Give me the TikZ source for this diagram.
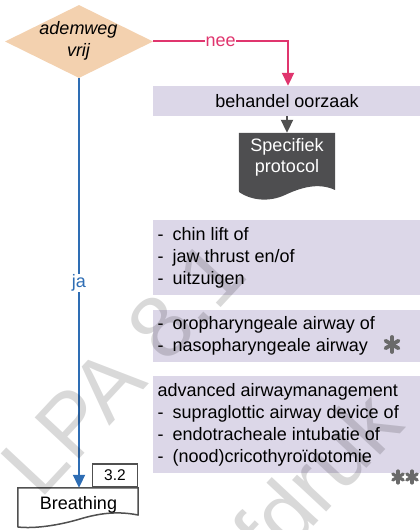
\documentclass[tikz,border=0pt]{standalone}
\usepackage{fontspec}
\setmainfont{Liberation Sans}
\usetikzlibrary{shapes.geometric,arrows.meta}

\definecolor{decisionfill}{HTML}{F3D1AF}
\definecolor{actionfill}{HTML}{DCD7E8}
\definecolor{noline}{HTML}{E0356E}
\definecolor{yesline}{HTML}{2E6DB4}
\definecolor{protofill}{HTML}{4E4E50}
\definecolor{docline}{HTML}{505050}
\definecolor{markgray}{HTML}{6A6A6A}

\begin{document}
\begin{tikzpicture}[x=1pt,y=1pt,
  txt/.style={font=\fontsize{18}{22}\selectfont, inner sep=0pt},
  decision/.style={diamond, fill=decisionfill, minimum width=148pt,
    minimum height=73pt, inner sep=0pt, aspect=2},
  actionbox/.style={rectangle, fill=actionfill, inner sep=0pt,
    minimum width=270pt},
  lbl/.style={txt, fill=white, inner sep=0.6pt},
  noflow/.style={draw=noline, line width=2pt,
    -{Triangle[width=12pt,length=13pt]}},
  yesflow/.style={draw=yesline, line width=2pt,
    -{Triangle[width=12pt,length=13pt]}},
  darkflow/.style={draw=docline, line width=2pt,
    -{Triangle[width=12pt,length=13pt]}},
  docedge/.style={draw=docline, line width=1.5pt},
  watermark/.style={font=\fontsize{88}{88}\selectfont, text=black,
    text opacity=0.15, inner sep=0pt, rotate=47, anchor=base west},
  pics/heavyast/.style 2 args={code={
    \foreach \a in {30,90,...,330}
      \draw[line width=#2, line cap=round, markgray] (0,0) -- (\a:#1);
  }}
]
\useasboundingbox (0,0) rectangle (420,530);

% decision
\node[decision] (q) at (79,488.5) {};
\node[txt, anchor=base, font=\fontsize{18}{22}\selectfont\itshape] (qtext) at (78.5,495)
  {\begin{tabular}[t]{@{}c@{}}ademweg\\vrij\end{tabular}};

% "nee" branch
\node[actionbox, minimum height=30pt] (behandel) at (288,429) {};
\node[txt, anchor=base] (behandeltext) at (287,422.5) {behandel oorzaak};
\draw[noflow] (q.east) -- node[lbl, text=noline] (nee) {nee}
  (q.east -| behandel.north) -- (behandel.north);

% specific protocol document
\node[inner sep=0pt, minimum width=96pt, minimum height=57pt] (proto) at (287,368.5) {};
\fill[protofill] (proto.north west) -- (proto.north east) -- (335,340)
  .. controls (318,348) and (300,342) .. (285,335)
  .. controls (270,328) and (252,329) .. (239,338) -- cycle;
\node[txt, anchor=base, text=white] (prototext) at (287,378)
  {\begin{tabular}[t]{@{}c@{}}Specifiek\\[-1pt]protocol\end{tabular}};
\draw[darkflow] (behandel.south -| proto.north) -- (proto.north);

% action boxes
\node[actionbox, minimum height=75pt] (box1) at (288,272.5) {};
\node[txt, anchor=base west] (box1text) at (157.5,289.5)
  {\begin{tabular}[t]{@{}p{15pt}@{}l@{}}
   -&chin lift of\\ -&jaw thrust en/of\\ -&uitzuigen\end{tabular}};

\node[actionbox, minimum height=52pt] (box2) at (288,194) {};
\node[txt, anchor=base west] (box2text) at (157.5,200.5)
  {\begin{tabular}[t]{@{}p{15pt}@{}l@{}}
   -&oropharyngeale airway of\\ -&nasopharyngeale airway\end{tabular}};
\pic at (392,185.5) {heavyast={7.5pt}{3.8pt}};

\node[actionbox, minimum height=97pt] (box3) at (288,105.5) {};
\node[txt, anchor=base west] (box3text) at (157.5,133)
  {\begin{tabular}[t]{@{}p{15pt}@{}l@{}}
   \multicolumn{2}{@{}l@{}}{advanced airwaymanagement}\\
   -&supraglottic airway device of\\
   -&endotracheale intubatie of\\
   -&(nood)cricothyroïdotomie\end{tabular}};
\pic at (398,53) {heavyast={6pt}{3.2pt}};
\pic at (412,53) {heavyast={6pt}{3.2pt}};

% breathing document with chapter tab
\node[inner sep=0pt, minimum width=120pt, minimum height=27pt] (breathing) at (78,28.5) {};
\draw[docedge, fill=white] (breathing.north west) -- (breathing.north east) -- (138,15)
  .. controls (118,19) and (100,17) .. (80,11)
  .. controls (60,5) and (35,1) .. (18,3) -- cycle;
\node[docedge, draw, fill=white, rectangle, inner sep=0pt, minimum width=45pt,
  minimum height=23pt, anchor=south east, font=\fontsize{15.5}{18}\selectfont]
  (tab) at (breathing.north east) {3.2};
\node[txt, anchor=base] (breathingtext) at (78.5,20) {Breathing};

% "ja" branch
\draw[yesflow] (q.south) -- node[lbl, text=yesline] (ja) {ja} (q.south |- breathing.north);

% proof watermark
\begin{scope}
  \clip (0,0) rectangle (420,530);
  \node[watermark] (wm1) at (40.6,29.3) {LPA 8.1};
  \node[watermark] (wm2) at (152.5,-169) {proefdruk};
\end{scope}
\end{tikzpicture}
\end{document}
